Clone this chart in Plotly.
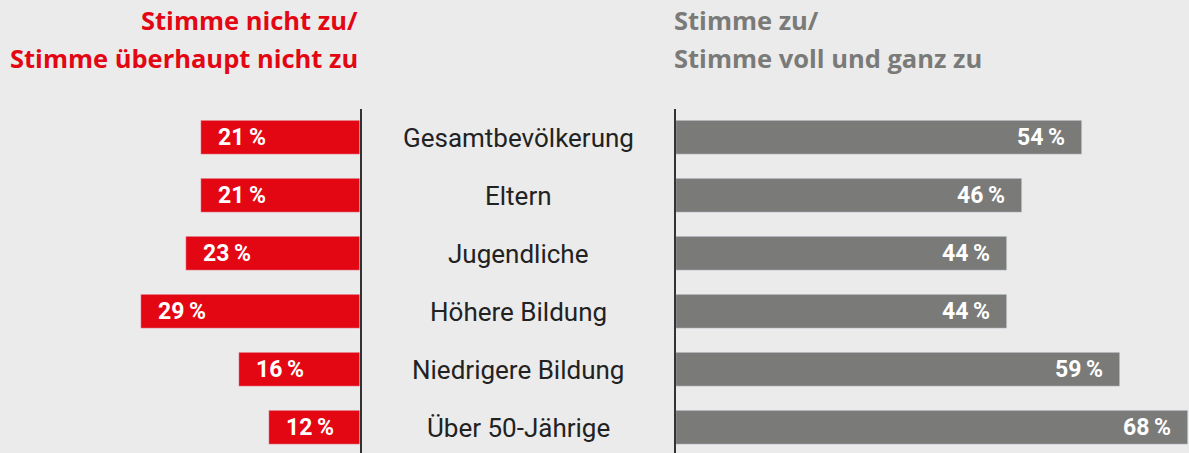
import plotly.graph_objects as go
from plotly.subplots import make_subplots

categories = ["Gesamtbevölkerung", "Eltern", "Jugendliche", "Höhere Bildung",
              "Niedrigere Bildung", "Über 50-Jährige"]
disagree = [21, 21, 23, 29, 16, 12]
agree = [54, 46, 44, 44, 59, 68]
title_left = ["Stimme nicht zu/", "Stimme überhaupt nicht zu"]
title_right = ["Stimme zu/", "Stimme voll und ganz zu"]

W, H = 1189, 453
RED = "#e30613"
GREY = "#7a7a78"
BG = "#ebebeb"
FONT = "Roboto"
TFONT = "Open Sans"

px_per = 7.56
left_edge = 360
right_edge = 676

fig = make_subplots(rows=1, cols=2, horizontal_spacing=0)
fig.add_trace(go.Bar(y=categories, x=disagree, orientation="h", marker_color=RED,
                     width=0.6, hoverinfo="skip"), row=1, col=1)
fig.add_trace(go.Bar(y=categories, x=agree, orientation="h", marker_color=GREY,
                     width=0.6, hoverinfo="skip"), row=1, col=2)

y_top = 108.5
row_px = 58
y_units = (H - y_top) / row_px
y_range = [y_units - 0.5, -0.5]
ydom = [0, 1 - y_top / H]

fig.update_xaxes(domain=[0, left_edge / W], range=[left_edge / px_per, 0],
                 visible=False, row=1, col=1)
fig.update_xaxes(domain=[right_edge / W, 1], range=[0, 68.2],
                 visible=False, row=1, col=2)
fig.update_yaxes(domain=ydom, range=y_range, showticklabels=False, showgrid=False,
                 zeroline=False, showline=True, linecolor="#333333", linewidth=2,
                 ticks="")
fig.update_yaxes(side="right", row=1, col=1)
fig.update_yaxes(side="left", row=1, col=2)

lab_font = dict(family=FONT, size=23, color="white", weight="bold")
annotations = []
for c, v in zip(categories, disagree):
    annotations.append(dict(x=v, y=c, xref="x", yref="y", text=f"{v}\u2009%",
                            xanchor="left", xshift=15, showarrow=False, font=lab_font))
for c, v in zip(categories, agree):
    annotations.append(dict(x=v, y=c, xref="x2", yref="y2", text=f"{v}\u2009%",
                            xanchor="right", xshift=-15, showarrow=False, font=lab_font))
for c in categories:
    annotations.append(dict(x=(left_edge + right_edge) / 2 / W, y=c, xref="paper", yref="y",
                            text=c, xanchor="center", showarrow=False,
                            font=dict(family=FONT, size=26, color="#222222")))
title_font_sz = 25.5
for i, (tl, tr) in enumerate(zip(title_left, title_right)):
    ypix = 20 + 38 * i
    annotations.append(dict(x=left_edge / W, y=1 - ypix / H, xref="paper", yref="paper",
                            text=tl, xanchor="right", yanchor="middle", showarrow=False,
                            font=dict(family=TFONT, size=title_font_sz, color=RED, weight="bold")))
    annotations.append(dict(x=672 / W, y=1 - ypix / H, xref="paper", yref="paper",
                            text=tr, xanchor="left", yanchor="middle", showarrow=False,
                            font=dict(family=TFONT, size=title_font_sz, color=GREY, weight="bold")))

fig.update_layout(width=W, height=H, margin=dict(l=0, r=0, t=0, b=0),
                  paper_bgcolor=BG, plot_bgcolor=BG, showlegend=False,
                  annotations=annotations, bargap=0)
fig.write_html("out.html", post_script="document.body.style.margin='0';",
               config={"displayModeBar": False})
